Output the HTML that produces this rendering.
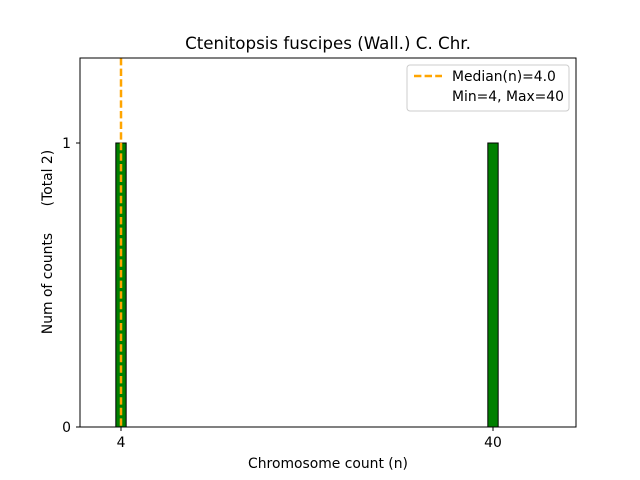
<!DOCTYPE html>
<html><head><meta charset="utf-8"><style>body{margin:0;background:#fff}svg{display:block;font-family:"DejaVu Sans","Liberation Sans",sans-serif}text{white-space:pre}</style></head>
<body>
<svg id="chart" width="640" height="480" xmlns="http://www.w3.org/2000/svg">
<rect width="640" height="480" fill="#fff"/>
<text x="328" y="49" text-anchor="middle" font-size="16.7">Ctenitopsis fuscipes (Wall.) C. Chr.</text>
<g id="bars"></g>
<line id="med" y1="58" y2="427" stroke="orange" stroke-width="2.5" stroke-dasharray="7.4,3.2"/>
<rect x="80" y="58" width="496" height="369" fill="none" stroke="#000" stroke-width="1"/>
<g id="axes" font-size="13.9"></g>
<text x="328" y="468" text-anchor="middle" font-size="13.9">Chromosome count (n)</text>
<text transform="translate(52,242) rotate(-90)" text-anchor="middle" font-size="13.9" xml:space="preserve">Num of counts      (Total 2)</text>
<g>
<rect x="407" y="65" width="162" height="46" rx="3" fill="#fff" stroke="#ccc"/>
<line x1="414" y1="76" x2="442" y2="76" stroke="orange" stroke-width="2.5" stroke-dasharray="7.4,3.2"/>
<text x="452" y="81" font-size="13.9">Median(n)=4.0</text>
<text x="452" y="101" font-size="13.9">Min=4, Max=40</text>
</g>
</svg>
<script>
const categories=[4,40];
const counts=[1,1];
const xTicks=[4,40];
const yTicks=[0,1];
const median=4.0;
const NS="http://www.w3.org/2000/svg";
const xs=v=>121+(v-4)*(372/36);
const ys=v=>427-v*284;
const bars=document.getElementById('bars');
categories.forEach((c,i)=>{
 const r=document.createElementNS(NS,'rect');
 
 
 r.setAttribute('x',xs(c-0.5));r.setAttribute('width',xs(c+0.5)-xs(c-0.5));
 r.setAttribute('y',ys(counts[i]));r.setAttribute('height',ys(0)-ys(counts[i]));
 r.setAttribute('fill','green');r.setAttribute('stroke','#000');r.setAttribute('stroke-width','1');
 bars.appendChild(r);
});
const m=document.getElementById('med');m.setAttribute('x1',xs(median));m.setAttribute('x2',xs(median));
const ax=document.getElementById('axes');
xTicks.forEach(t=>{
 const l=document.createElementNS(NS,'line');
 
 
 l.setAttribute('x1',xs(t));l.setAttribute('x2',xs(t));l.setAttribute('y1',427);l.setAttribute('y2',431);l.setAttribute('stroke','#000');
 ax.appendChild(l);
 const tx=document.createElementNS(NS,'text');
 
 
 tx.setAttribute('x',xs(t));tx.setAttribute('y',447);tx.setAttribute('text-anchor','middle');tx.textContent=t;
 ax.appendChild(tx);
});
yTicks.forEach(t=>{
 const l=document.createElementNS(NS,'line');
 
 
 l.setAttribute('x1',76);l.setAttribute('x2',80);l.setAttribute('y1',ys(t));l.setAttribute('y2',ys(t));l.setAttribute('stroke','#000');
 ax.appendChild(l);
 const tx=document.createElementNS(NS,'text');
 
 
 tx.setAttribute('x',71);tx.setAttribute('y',ys(t)+5);tx.setAttribute('text-anchor','end');tx.textContent=t;
 ax.appendChild(tx);
});
</script>
</body></html>
